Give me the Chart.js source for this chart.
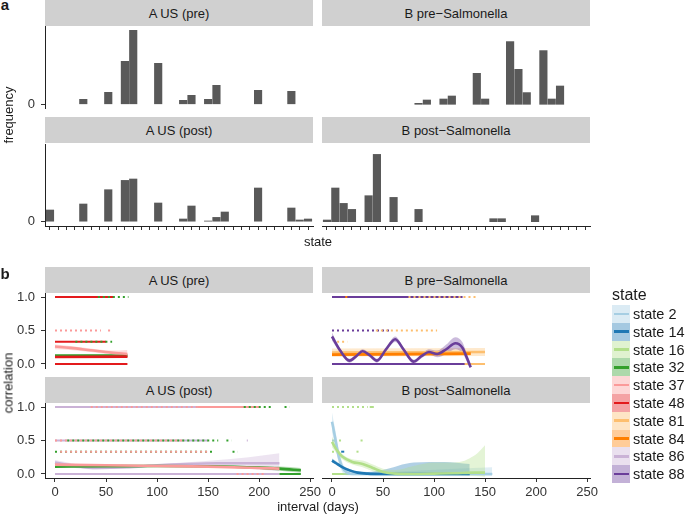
<!DOCTYPE html>
<html>
<head>
<meta charset="utf-8">
<script src="https://cdn.jsdelivr.net/npm/chart.js@4.4.0/dist/chart.umd.min.js"></script>
<style>
body { margin: 0; background: #fff; font-family: "Liberation Sans", Arial, sans-serif; }
#fig { position: relative; width: 685px; height: 515px; overflow: hidden; }
.strip { position: absolute; background: #d0d0d0; color: #1a1a1a; font-size: 13px; display: flex; align-items: center; justify-content: center; }
.lbl { position: absolute; white-space: nowrap; line-height: 1; color: #1a1a1a; }
canvas { position: absolute; }
</style>
</head>
<body>
<div id="fig"></div>
<script>
// ---- part a: state frequencies (32 state slots, only "0" is labelled) ----
const stateSlots = [0,1,2,3,4,5,6,7,8,9,10,11,12,13,14,15,16,17,18,19,20,21,22,23,24,25,26,27,28,29,30,31];
const aPreFreq  = [0,0,0,0,5,0,0,12,0,43,74,0,0,41,0,0,4,9,0,5,19,0,0,0,0,14,0,0,0,13,0,0];
const bPreFreq  = [0,0,0,0,0,0,0,0,0,0,0,1,4.3,0,5.3,8.3,0,0,31,5.3,0,0,62.7,35,11.7,0,53.7,5.3,18.3,0,0,0];
const aPostFreq = [11.7,0,0,0,17.7,0,0,32,0,41.3,42.7,0,0,18.7,0,0,2.7,15.7,0,0.7,4.3,9.7,0,0,0,33.7,0,0,0,13.7,1.7,2.7];
const bPostFreq = [1.7,33.7,18.3,12.3,0,26,67.3,0,24.3,0,0,12.3,0,0,0,0,0,0,0,0,3,3,0,0,0,6,0,0,0,0,0,0];
const freqTicks = [0];

// ---- part b: correlation vs interval ----
const corrTicks = [0, 0.5, 1];
const dayTicks = [0, 50, 100, 150, 200, 250];
const legendStates = [2, 14, 16, 32, 37, 48, 81, 84, 86, 88];

// point rows: [state, correlation, from day, to day, sparse]
const aPreRows = [
  [48, 1, 0, 58, 0], [32, 1, 42, 72, 1],
  [37, 0.5, 0, 45, 1], [37, 0.5, 52, 54, 0],
  [48, 0.333, 0, 50, 0], [32, 0.333, 20, 56, 1],
  [48, 0, 0, 71, 0]
];
const bPreRows = [
  [88, 1, 0, 128, 0], [84, 1, 13, 15, 0], [81, 1, 75, 142, 1],
  [88, 0.5, 0, 57, 1], [81, 0.5, 43, 103, 1],
  [81, 0.333, 5, 15, 1],
  [88, 0, 0, 136, 0], [81, 0, 130, 150, 0]
];
const aPostRows = [
  [86, 1, 0, 181, 0], [37, 1, 35, 140, 1], [37, 1, 140, 200, 0], [32, 1, 185, 214, 1], [32, 1, 225, 230, 1],
  [86, 0.5, 0, 150, 0], [37, 0.5, 0, 125, 1], [32, 0.5, 12, 160, 1], [32, 0.5, 168, 173, 1], [86, 0.5, 188, 189, 0],
  [32, 0.333, 0, 155, 1], [37, 0.333, 5, 150, 1], [32, 0.333, 174, 179, 1],
  [86, 0, 0, 220, 0], [37, 0, 178, 205, 1], [32, 0, 220, 241, 0]
];
const bPostRows = [
  [16, 1, 0, 35, 1], [16, 1, 37, 41, 0],
  [2, 0.5, 0, 3, 0], [16, 0.5, 2, 10, 1], [16, 0.5, 28, 30, 0],
  [16, 0.333, 0, 5, 1], [14, 0.333, 9, 12, 0], [16, 0.333, 24, 26, 0],
  [2, 0, 0, 157, 0], [16, 0, 0, 150, 0]
];

// smooth fits: [state, days, fit, lower, upper]
const aPreFits = [
  [32, [0, 71], [0.125, 0.125], [0.115, 0.105], [0.135, 0.145]],
  [48, [0, 71], [0.105, 0.11], [0.09, 0.09], [0.12, 0.13]],
  [37, [0, 15, 35, 55, 71], [0.26, 0.24, 0.205, 0.17, 0.15], [0.22, 0.21, 0.18, 0.14, 0.09], [0.29, 0.27, 0.23, 0.2, 0.21]]
];
const bPreFits = [
  [81, [0, 150], [0.17, 0.18], [0.11, 0.12], [0.23, 0.24]],
  [84, [0, 136], [0.14, 0.155], [0.115, 0.13], [0.165, 0.18]],
  [88, [0, 8, 17, 24, 30, 37, 44, 53, 62, 70, 80, 88, 95, 103, 112, 121, 128, 132, 136],
       [0.41, 0.2, 0.05, 0.12, 0.19, 0.13, 0.05, 0.22, 0.37, 0.22, 0.035, 0.12, 0.18, 0.15, 0.22, 0.31, 0.24, 0.1, -0.05],
       [0.35, 0.17, 0.02, 0.09, 0.16, 0.10, 0.02, 0.19, 0.33, 0.19, 0.005, 0.09, 0.14, 0.10, 0.15, 0.22, 0.16, 0.04, -0.10],
       [0.47, 0.23, 0.08, 0.15, 0.22, 0.16, 0.08, 0.25, 0.41, 0.25, 0.065, 0.15, 0.22, 0.20, 0.29, 0.40, 0.32, 0.16, 0.0]]
];
const aPostFits = [
  [86, [0, 20, 40, 70, 100, 130, 160, 190, 220], [0.17, 0.12, 0.09, 0.1, 0.13, 0.15, 0.16, 0.16, 0.16],
       [0.13, 0.09, 0.07, 0.085, 0.115, 0.125, 0.115, 0.08, 0.04], [0.21, 0.15, 0.115, 0.12, 0.145, 0.175, 0.21, 0.25, 0.31]],
  [32, [0, 50, 100, 150, 200, 220, 241], [0.11, 0.115, 0.12, 0.115, 0.095, 0.08, 0.055],
       [0.1, 0.105, 0.11, 0.105, 0.08, 0.05, 0.02], [0.12, 0.125, 0.13, 0.125, 0.11, 0.11, 0.09]],
  [37, [0, 50, 100, 150, 200, 220], [0.14, 0.13, 0.12, 0.11, 0.09, 0.08],
       [0.12, 0.12, 0.11, 0.1, 0.07, 0.055], [0.16, 0.14, 0.13, 0.12, 0.11, 0.105]]
];
const bPostFits = [
  [2, [0, 3, 6, 10, 15, 20, 40, 80, 120, 157], [0.78, 0.55, 0.3, 0.1, 0.02, 0, 0, 0, 0, 0],
      [0.62, 0.42, 0.2, 0.03, -0.02, -0.02, -0.02, -0.02, -0.02, -0.03], [0.92, 0.68, 0.42, 0.18, 0.06, 0.03, 0.03, 0.05, 0.08, 0.1]],
  [14, [0, 4, 8, 13, 18, 25, 35, 50, 80, 110, 135], [0.2, 0.16, 0.12, 0.08, 0.05, 0.02, 0.005, 0, 0, 0, 0],
       [0.17, 0.14, 0.1, 0.06, 0.03, 0.0, -0.01, -0.02, -0.02, -0.02, -0.02], [0.23, 0.19, 0.15, 0.1, 0.07, 0.04, 0.03, 0.06, 0.17, 0.18, 0.15]],
  [16, [0, 5, 10, 20, 30, 40, 50, 62, 80, 100, 120, 140, 150], [0.48, 0.35, 0.26, 0.18, 0.15, 0.09, 0.03, 0.005, 0, 0.005, 0.01, 0.02, 0.02],
       [0.4, 0.3, 0.22, 0.14, 0.1, 0.04, -0.01, -0.02, -0.02, -0.02, -0.02, -0.03, -0.04], [0.56, 0.4, 0.3, 0.22, 0.2, 0.14, 0.08, 0.06, 0.12, 0.17, 0.17, 0.28, 0.43]]
];

const paired = {2: "#A6CEE3", 14: "#1F78B4", 16: "#B2DF8A", 32: "#33A02C", 37: "#FB9A99",
                48: "#E31A1C", 81: "#FDBF6F", 84: "#FF7F00", 86: "#CAB2D6", 88: "#6A3D9A"};

function rgba(hex, a) {
    let n = parseInt(hex.slice(1), 16);
    return "rgba(" + (n >> 16) + "," + ((n >> 8) & 255) + "," + (n & 255) + "," + a + ")";
}

Chart.defaults.font.family = '"Liberation Sans", Arial, sans-serif';
Chart.defaults.font.size = 13;

let fig = document.getElementById("fig");

function label(str, x, y, size, opts) {
    opts = opts || {};
    let d = document.createElement("div");
    d.className = "lbl";
    d.textContent = str;
    d.style.left = x + "px";
    d.style.top = y + "px";
    d.style.fontSize = size + "px";
    if (opts.bold) d.style.fontWeight = "bold";
    let tf = opts.left ? "translate(0,-50%)" : "translate(-50%,-50%)";
    if (opts.rotate) tf += " rotate(-90deg)";
    d.style.transform = tf;
    fig.appendChild(d);
}

function strip(str, x, y, w, h) {
    let d = document.createElement("div");
    d.className = "strip";
    d.textContent = str;
    d.style.left = x + "px";
    d.style.top = y + "px";
    d.style.width = w + "px";
    d.style.height = h + "px";
    fig.appendChild(d);
}

function axis(show, min, max, tickVals, showLabels, fmt, pad) {
    return {
        type: "linear", display: show, min: min, max: max, offset: false,
        afterBuildTicks: function (s) { s.ticks = tickVals.map(v => ({ value: v })); },
        grid: { offset: false, drawOnChartArea: false, drawTicks: true, tickLength: 4, color: "#333", tickColor: "#333" },
        border: { display: true, color: "#222", width: 1 },
        ticks: { display: showLabels, color: "#333", font: { size: 13 }, padding: pad, autoSkip: false, maxRotation: 0, callback: fmt }
    };
}

// one facet: plot area at (left, top, w, h); axes are drawn outside it
function panel(left, top, w, h, yAxis, xAxis, xAxisH, type, datasets, xOpt, yOpt) {
    let axW = yAxis ? 45 : 0;
    let cv = document.createElement("canvas");
    cv.width = axW + w + 14;
    cv.height = 8 + h + (xAxis ? xAxisH : 0) + 4;
    cv.style.left = (left - axW) + "px";
    cv.style.top = (top - 8) + "px";
    fig.appendChild(cv);
    // fixed axis sizes so that every facet keeps its exact plot area
    xOpt.afterFit = function (s) { s.height = xAxisH; s.paddingLeft = 0; s.paddingRight = 0; };
    yOpt.afterFit = function (s) { s.width = axW; s.paddingTop = 0; s.paddingBottom = 0; };
    new Chart(cv, {
        type: type,
        data: { datasets: datasets },
        options: {
            responsive: false,
            animation: false,
            layout: { autoPadding: false, padding: { left: 0, top: 8, right: 14, bottom: 4 } },
            plugins: { legend: { display: false }, tooltip: { enabled: false } },
            scales: { x: xOpt, y: yOpt }
        }
    });
}

function barSets(freq) {
    let pts = [];
    freq.forEach((v, i) => { if (v > 0) pts.push({ x: stateSlots[i], y: v }); });
    return [{ data: pts, backgroundColor: "#595959", barThickness: 7.5, borderWidth: 0 }];
}

function corrSets(rows, fits) {
    let sets = [];
    let add = function (ds) { ds.order = 1000 - sets.length; sets.push(ds); };
    rows.forEach(r => {
        add({
            data: [{ x: r[2], y: r[1] }, { x: r[3], y: r[1] }],
            borderColor: paired[r[0]], borderWidth: 2, borderCapStyle: "butt",
            borderDash: r[4] ? [2, 3] : [], pointRadius: 0, fill: false
        });
    });
    fits.forEach(f => {
        let lo = sets.length;
        add({ data: f[1].map((x, i) => ({ x: x, y: f[3][i] })), borderWidth: 0, pointRadius: 0, fill: false, cubicInterpolationMode: "monotone" });
        add({ data: f[1].map((x, i) => ({ x: x, y: f[4][i] })), borderWidth: 0, pointRadius: 0, fill: lo,
              backgroundColor: rgba(paired[f[0]], 0.35), cubicInterpolationMode: "monotone" });
    });
    fits.forEach(f => {
        add({ data: f[1].map((x, i) => ({ x: x, y: f[2][i] })), borderColor: paired[f[0]], borderWidth: 2.6,
              pointRadius: 0, fill: false, cubicInterpolationMode: "monotone" });
    });
    return sets;
}

let fmtNum = v => String(v);
let fmtCorr = v => v.toFixed(1);
let blank = v => "";

// ---- part a ----
label("a", 5, 4, 15, { bold: true });
strip("A US (pre)", 45, 0, 268, 26);
strip("B pre\u2212Salmonella", 322, 0, 268, 26);
strip("A US (post)", 45, 117, 268, 26);
strip("B post\u2212Salmonella", 322, 117, 268, 26);

panel(45, 26, 268, 82, true, false, 0, "bar", barSets(aPreFreq),
      axis(false, -0.6, 31.6, stateSlots, false, blank, 2), axis(true, -3.7, 78.3, freqTicks, true, fmtNum, 6));
panel(322, 26, 268, 82, false, false, 0, "bar", barSets(bPreFreq),
      axis(false, -0.6, 31.6, stateSlots, false, blank, 2), axis(false, -3.7, 78.3, freqTicks, false, fmtNum, 6));
panel(45, 144, 268, 82, true, true, 6, "bar", barSets(aPostFreq),
      axis(true, -0.6, 31.6, stateSlots, false, blank, 2), axis(true, -4.3, 77.7, freqTicks, true, fmtNum, 6));
panel(322, 144, 268, 82, false, true, 6, "bar", barSets(bPostFreq),
      axis(true, -0.6, 31.6, stateSlots, false, blank, 2), axis(false, -4.3, 77.7, freqTicks, false, fmtNum, 6));

label("frequency", 8, 115, 13, { rotate: true });
label("state", 318, 241, 13);

// ---- part b ----
label("b", 5, 273, 15, { bold: true });
strip("A US (pre)", 45, 267, 268, 26);
strip("B pre\u2212Salmonella", 322, 267, 268, 26);
strip("A US (post)", 45, 377, 268, 26);
strip("B post\u2212Salmonella", 322, 377, 268, 26);

panel(45, 293, 268, 75, true, false, 0, "line", corrSets(aPreRows, aPreFits),
      axis(false, -9.8, 252.9, dayTicks, true, fmtNum, 3), axis(true, -0.06, 1.06, corrTicks, true, fmtCorr, 6));
panel(322, 293, 268, 75, false, false, 0, "line", corrSets(bPreRows, bPreFits),
      axis(false, -9.8, 252.9, dayTicks, true, fmtNum, 3), axis(false, -0.06, 1.06, corrTicks, true, fmtCorr, 6));
panel(45, 403, 268, 75, true, true, 24, "line", corrSets(aPostRows, aPostFits),
      axis(true, -9.8, 252.9, dayTicks, true, fmtNum, 3), axis(true, -0.06, 1.06, corrTicks, true, fmtCorr, 6));
panel(322, 403, 268, 75, false, true, 24, "line", corrSets(bPostRows, bPostFits),
      axis(true, -9.8, 252.9, dayTicks, true, fmtNum, 3), axis(false, -0.06, 1.06, corrTicks, true, fmtCorr, 6));

label("correlation", 8, 383, 13, { rotate: true });
label("interval (days)", 318, 506, 13);

// legend
label("state", 612, 295, 16, { left: true });
legendStates.forEach((st, i) => {
    let y = 305 + i * 17.8;
    let key = document.createElement("div");
    key.style.cssText = "position:absolute;left:612px;top:" + y + "px;width:18px;height:17.8px;background:" + rgba(paired[st], 0.4);
    let ln = document.createElement("div");
    ln.style.cssText = "position:absolute;left:1.5px;top:7.6px;width:15px;height:2.6px;background:" + paired[st];
    key.appendChild(ln);
    fig.appendChild(key);
    label("state " + st, 633, y + 9, 14.5, { left: true });
});
</script>
</body>
</html>
